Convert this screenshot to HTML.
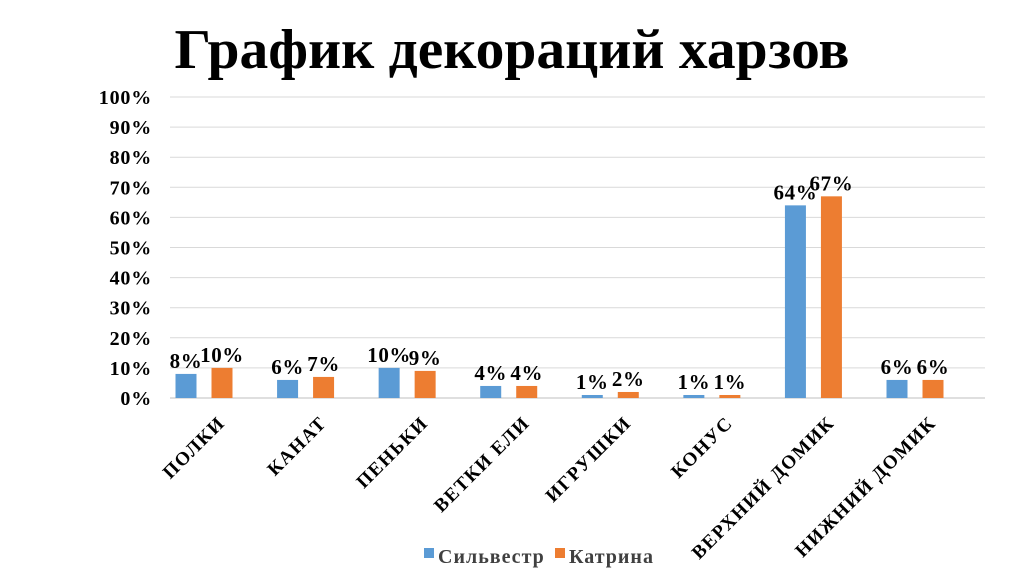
<!DOCTYPE html>
<html><head><meta charset="utf-8">
<style>
html,body{margin:0;padding:0;background:#fff;}
svg{display:block;font-family:"Liberation Serif","Noto Serif CJK SC",serif;font-weight:bold;}
</style></head>
<body>
<svg id="chart" width="1024" height="574">
<text x="512" y="68" text-anchor="middle" font-size="56" textLength="675" lengthAdjust="spacingAndGlyphs">График декораций харзов</text>
<g id="grid"></g><g id="bars"></g><g id="labels"></g>
<g>
<rect x="424" y="548" width="10" height="10" fill="#5b9bd5"/>
<text x="438" y="563" font-size="20" letter-spacing="1" fill="#404040">Сильвестр</text>
<rect x="555" y="548" width="10" height="10" fill="#ed7d31"/>
<text x="569" y="563" font-size="20" letter-spacing="1" fill="#404040">Катрина</text>
</g>
</svg>
<script>
const categories=["ПОЛКИ","КАНАТ","ПЕНЬКИ","ВЕТКИ ЕЛИ","ИГРУШКИ","КОНУС","ВЕРХНИЙ ДОМИК","НИЖНИЙ ДОМИК"];
const silvestr=[8,6,10,4,1,1,64,6];
const katrina=[10,7,9,4,2,1,67,6];
const yTicks=[0,10,20,30,40,50,60,70,80,90,100];
const NS="http://www.w3.org/2000/svg";
const x0=170,x1=985,yBase=398,yTop=97;
const first=204,last=915;
const band=(last-first)/(categories.length-1);
function y(v){return yBase-(v/100)*(yBase-yTop);}
function cx(i){return first+band*i;}
function mk(t,a,p){const e=document.createElementNS(NS,t);for(const k in a)e.setAttribute(k,a[k]);p.appendChild(e);return e;}
const grid=document.getElementById('grid'),bars=document.getElementById('bars'),labels=document.getElementById('labels');
yTicks.forEach(v=>{
 const l=mk('line',{x1:x0,x2:x1,y1:y(v),y2:y(v),stroke:v===0?'#bfbfbf':'#d9d9d9','stroke-width':1},grid);
 
 
 const t=mk('text',{x:152,y:y(v)+7,'text-anchor':'end','font-size':20,'letter-spacing':0.8,fill:'#000'},grid);
 t.textContent=v+'%';
 
 
});
const bw=21,off=15;
categories.forEach((c,i)=>{
 const c0=cx(i);
 [[silvestr[i],'#5b9bd5',c0-off/2-bw,'silvestr'],[katrina[i],'#ed7d31',c0+off/2,'katrina']].forEach(([v,col,bx,s])=>{
  const r=mk('rect',{x:bx,y:y(v),width:bw,height:yBase-y(v),fill:col},bars);
  
  
  const t=mk('text',{x:bx+bw/2,y:y(v)-6,'text-anchor':'middle','font-size':21,'letter-spacing':0.6,fill:'#000'},bars);
  t.textContent=v+'%';
  
  
 });
 const t=mk('text',{x:0,y:0,'text-anchor':'end','font-size':19,'letter-spacing':1.5,fill:'#000',transform:`translate(${c0+22},${424}) rotate(-45)`},labels);
 t.textContent=c;
 
 
});
</script>
</body></html>
